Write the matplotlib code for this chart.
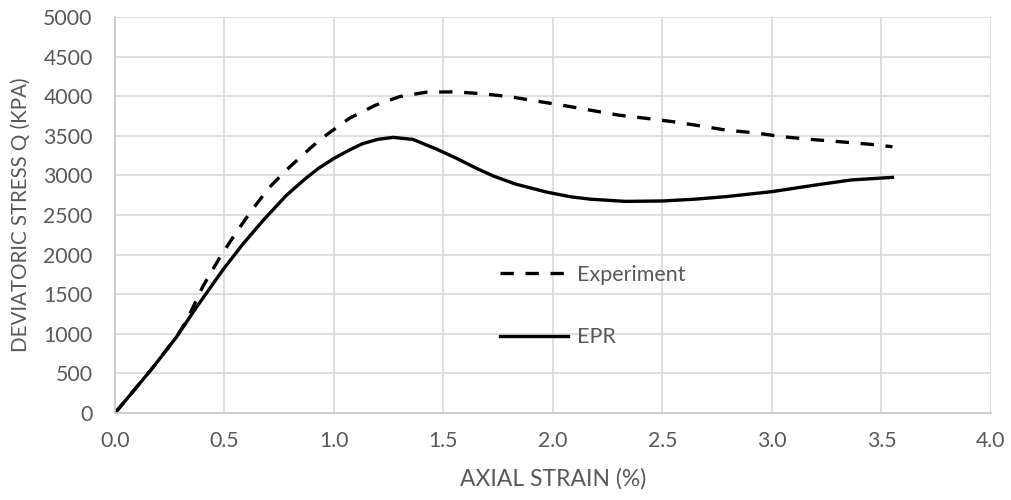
import matplotlib
matplotlib.use("Agg")
import matplotlib.pyplot as plt

# values
strain_exp = [0.0, 0.068, 0.175, 0.281, 0.33, 0.40, 0.48, 0.555, 0.63, 0.707,
              0.78, 0.87, 0.94, 1.0, 1.07, 1.19, 1.30, 1.42, 1.55, 1.67, 1.80,
              1.91, 2.04, 2.17, 2.30, 2.43, 2.55, 2.68, 2.79, 2.92, 3.05, 3.18,
              3.31, 3.44, 3.55]
stress_exp = [0, 223, 581, 960, 1180, 1591, 1970, 2286, 2580, 2854,
              3060, 3290, 3460, 3580, 3721, 3887, 3995, 4050, 4055, 4033, 3995,
              3945, 3887, 3824, 3761, 3719, 3677, 3622, 3572, 3538, 3488, 3454,
              3425, 3395, 3362]

strain_epr = [0.0, 0.068, 0.175, 0.281, 0.373, 0.497, 0.586, 0.677, 0.783,
              0.87, 0.93, 1.0, 1.07, 1.13, 1.20, 1.27, 1.36, 1.47, 1.56, 1.65,
              1.73, 1.83, 1.97, 2.08, 2.17, 2.33, 2.50, 2.65, 2.79, 3.0, 3.2,
              3.36, 3.55]
stress_epr = [0, 223, 581, 960, 1339, 1823, 2139, 2433, 2749,
              2960, 3090, 3215, 3320, 3400, 3455, 3480, 3455, 3330, 3215, 3090,
              2990, 2890, 2790, 2730, 2700, 2672, 2677, 2700, 2732, 2795, 2879,
              2942, 2975]

xticks = [0.0, 0.5, 1.0, 1.5, 2.0, 2.5, 3.0, 3.5, 4.0]
yticks = list(range(0, 5001, 500))

grey = "#595959"
plt.rcParams["font.family"] = ["Lato", "DejaVu Sans"]

fig = plt.figure(figsize=(10.11, 5.0), dpi=100)
ax = fig.add_axes([0.1137, 0.174, 0.8665, 0.792])

ax.plot(strain_exp, stress_exp, color="black", lw=2.4, linestyle=(0, (4, 3.5)),
        label="Experiment", solid_joinstyle="round")
ax.plot(strain_epr, stress_epr, color="black", lw=2.4, label="EPR",
        solid_joinstyle="round")

ax.set_xlim(0, 4.0)
ax.set_ylim(0, 5000)
ax.set_xticks(xticks)
ax.set_xticklabels(["%.1f" % t for t in xticks])
ax.set_yticks(yticks)
ax.grid(True, color="#d9d9d9", lw=1.2)
ax.set_axisbelow(True)
for s in ["top", "right"]:
    ax.spines[s].set_visible(False)
for s in ["left", "bottom"]:
    ax.spines[s].set_color("#c8c8c8")
    ax.spines[s].set_linewidth(1.2)
ax.tick_params(length=0, labelsize=15.3, colors=grey, pad=13)
ax.tick_params(axis="y", pad=16)

ax.set_xlabel("AXIAL STRAIN (%)", fontsize=16.5, color=grey, labelpad=12)
ax.set_ylabel("DEVIATORIC STRESS Q (KPA)", fontsize=14.8, color=grey, labelpad=9)

leg = ax.legend(loc="upper left", bbox_to_anchor=(0.44, 0.374), frameon=False,
                fontsize=15.5, handlelength=3.16, handletextpad=0.42,
                labelspacing=1.96, borderpad=0, borderaxespad=0)
for t in leg.get_texts():
    t.set_color(grey)

fig.savefig("out.png", dpi=100)
